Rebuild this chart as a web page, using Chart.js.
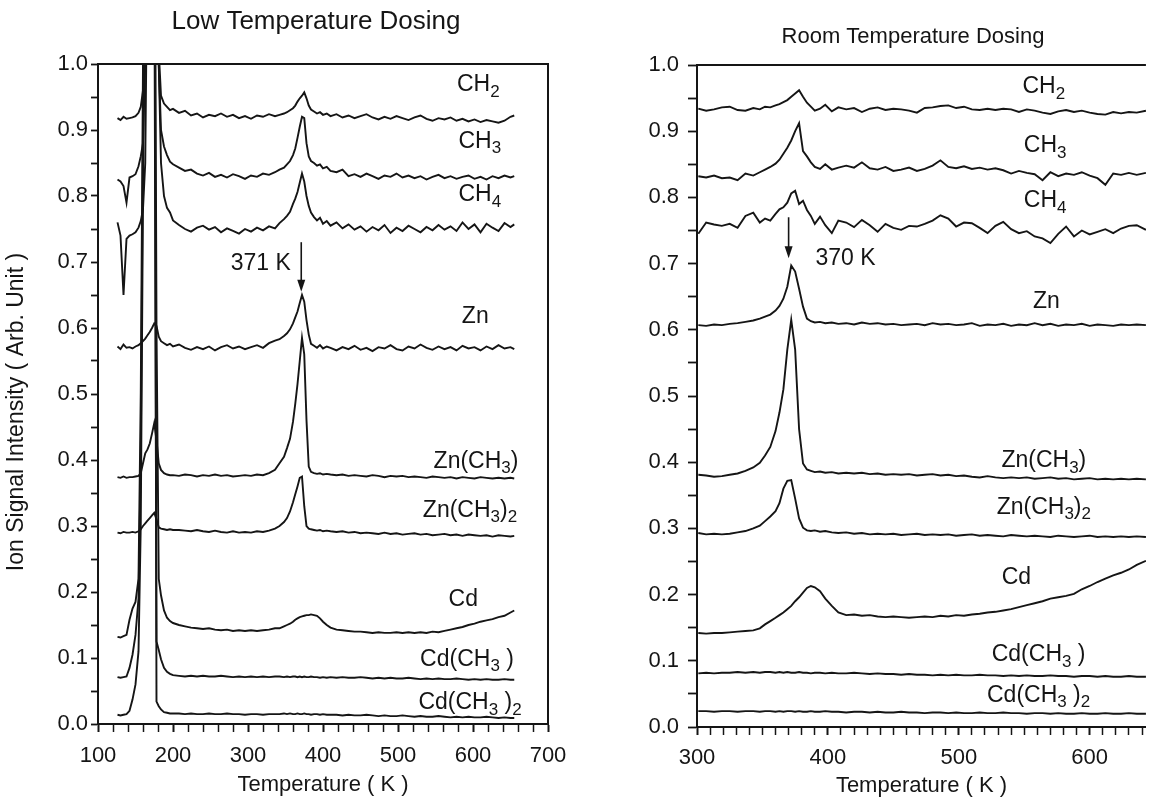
<!DOCTYPE html>
<html>
<head>
<meta charset="utf-8">
<title>Thermal desorption of Zn(CH3)2 / Cd(CH3)2</title>
<script src="https://cdn.jsdelivr.net/npm/chart.js@4.4.1/dist/chart.umd.min.js"></script>
<style>
  html, body { margin: 0; padding: 0; background: #fff; overflow: hidden; }
  #wrap { position: relative; width: 1152px; height: 799px; background: #fff; }
  canvas { position: absolute; top: 0; }
</style>
</head>
<body>
<div id="wrap">
  <canvas id="low" width="600" height="799" style="left:0;width:600px;height:799px"></canvas>
  <canvas id="room" width="542" height="799" style="left:610px;width:542px;height:799px"></canvas>
</div>
<script>
// ---- species (order is top to bottom in both panels) ----
const SPECIES = ['CH₂', 'CH₃', 'CH₄', 'Zn', 'Zn(CH₃)', 'Zn(CH₃)₂', 'Cd', 'Cd(CH₃ )', 'Cd(CH₃ )₂'];

// ---- low temperature dosing: temperature grid (K) ----
const lowTemps = [126,130,134,138,142,146,150,154,157,160,
  163,166,169,172,175,178,181,184,188,192,
  196,200,208,216,224,232,240,248,256,264,
  272,280,288,296,304,312,320,328,336,342,
  348,352,356,360,363,366,369,372,375,378,
  381,384,388,392,396,400,405,410,418,426,
  434,442,450,458,466,474,482,490,498,506,
  514,522,530,538,546,554,562,570,578,586,
  594,602,610,618,626,634,642,650,655];

const lowCH2 = [0.918,0.915,0.920,0.917,0.918,0.919,0.921,0.926,0.935,0.960,
  1.1,1.4,1.6,1.6,1.5,1.3,1.02,0.952,0.940,0.935,
  0.930,0.932,0.926,0.929,0.922,0.925,0.919,0.923,0.921,0.925,
  0.920,0.923,0.918,0.921,0.917,0.922,0.920,0.924,0.921,0.923,
  0.925,0.927,0.930,0.933,0.937,0.943,0.948,0.952,0.957,0.948,
  0.937,0.931,0.928,0.925,0.927,0.923,0.925,0.921,0.924,0.919,
  0.922,0.918,0.921,0.924,0.919,0.916,0.920,0.917,0.921,0.918,
  0.915,0.919,0.922,0.917,0.914,0.918,0.916,0.919,0.914,0.917,
  0.913,0.916,0.912,0.915,0.913,0.911,0.914,0.920,0.922];

const lowCH3 = [0.825,0.822,0.815,0.790,0.828,0.830,0.833,0.845,0.860,0.880,
  1.0,1.3,1.6,1.6,1.5,1.3,1.0,0.900,0.875,0.862,
  0.852,0.848,0.843,0.838,0.840,0.834,0.831,0.835,0.829,0.832,
  0.828,0.833,0.830,0.826,0.831,0.829,0.834,0.832,0.836,0.840,
  0.843,0.848,0.853,0.862,0.872,0.888,0.905,0.920,0.918,0.880,
  0.860,0.853,0.850,0.846,0.848,0.842,0.844,0.838,0.836,0.840,
  0.830,0.833,0.829,0.834,0.830,0.826,0.831,0.829,0.834,0.828,
  0.831,0.827,0.830,0.825,0.829,0.832,0.827,0.830,0.826,0.829,
  0.831,0.826,0.829,0.825,0.830,0.827,0.831,0.828,0.830];

const lowCH4 = [0.760,0.740,0.650,0.735,0.740,0.742,0.745,0.752,0.762,0.780,
  0.850,1.2,1.6,1.6,1.5,1.3,1.0,0.850,0.800,0.782,
  0.775,0.763,0.756,0.750,0.746,0.752,0.755,0.749,0.753,0.745,
  0.751,0.747,0.743,0.750,0.746,0.752,0.748,0.754,0.751,0.759,
  0.765,0.770,0.776,0.788,0.796,0.806,0.820,0.834,0.822,0.800,
  0.785,0.775,0.768,0.763,0.767,0.758,0.762,0.755,0.760,0.751,
  0.757,0.749,0.754,0.746,0.753,0.748,0.756,0.744,0.752,0.747,
  0.755,0.750,0.745,0.753,0.748,0.756,0.749,0.754,0.747,0.760,
  0.750,0.757,0.745,0.758,0.752,0.747,0.759,0.753,0.757];

const lowZn = [0.572,0.568,0.575,0.570,0.571,0.569,0.572,0.574,0.577,0.580,
  0.584,0.589,0.594,0.600,0.607,0.603,0.587,0.580,0.577,0.574,
  0.576,0.572,0.575,0.570,0.567,0.571,0.568,0.572,0.566,0.571,
  0.574,0.569,0.572,0.568,0.571,0.574,0.570,0.577,0.581,0.583,
  0.588,0.592,0.598,0.607,0.616,0.625,0.638,0.650,0.640,0.612,
  0.590,0.576,0.573,0.570,0.574,0.569,0.572,0.570,0.566,0.571,
  0.568,0.573,0.567,0.570,0.565,0.571,0.569,0.574,0.568,0.566,
  0.572,0.569,0.575,0.570,0.567,0.572,0.568,0.571,0.566,0.573,
  0.569,0.571,0.566,0.572,0.568,0.574,0.569,0.571,0.568];

const lowZnMe = [0.374,0.373,0.375,0.373,0.374,0.374,0.375,0.376,0.380,0.395,
  0.410,0.416,0.425,0.440,0.456,0.430,0.395,0.385,0.380,0.378,
  0.377,0.377,0.376,0.378,0.377,0.375,0.377,0.376,0.378,0.376,
  0.377,0.375,0.376,0.377,0.376,0.378,0.377,0.380,0.385,0.395,
  0.405,0.418,0.432,0.458,0.485,0.515,0.550,0.585,0.560,0.460,
  0.390,0.382,0.380,0.379,0.380,0.378,0.379,0.378,0.377,0.378,
  0.376,0.377,0.376,0.375,0.377,0.376,0.374,0.376,0.375,0.376,
  0.374,0.375,0.374,0.373,0.375,0.374,0.373,0.374,0.372,0.374,
  0.373,0.372,0.374,0.373,0.372,0.373,0.372,0.373,0.372];

const lowZnMe2 = [0.290,0.289,0.291,0.290,0.290,0.291,0.290,0.292,0.295,0.300,
  0.304,0.308,0.312,0.316,0.320,0.310,0.298,0.296,0.295,0.294,
  0.295,0.294,0.294,0.293,0.292,0.294,0.292,0.291,0.293,0.291,
  0.290,0.292,0.290,0.291,0.290,0.292,0.291,0.293,0.296,0.300,
  0.306,0.312,0.322,0.336,0.348,0.360,0.373,0.375,0.330,0.300,
  0.296,0.295,0.294,0.293,0.294,0.292,0.293,0.292,0.291,0.292,
  0.290,0.291,0.289,0.290,0.289,0.288,0.290,0.288,0.289,0.287,
  0.288,0.289,0.287,0.288,0.286,0.287,0.288,0.286,0.287,0.285,
  0.287,0.286,0.285,0.286,0.284,0.286,0.285,0.284,0.285];

const lowCd = [0.132,0.131,0.133,0.135,0.158,0.175,0.185,0.220,0.500,1.0,
  1.4,1.6,1.6,1.6,1.5,0.600,0.220,0.195,0.172,0.161,
  0.156,0.153,0.150,0.148,0.146,0.145,0.144,0.145,0.143,0.142,
  0.143,0.141,0.142,0.141,0.142,0.141,0.142,0.143,0.145,0.145,
  0.148,0.150,0.152,0.155,0.158,0.160,0.162,0.163,0.164,0.165,
  0.165,0.166,0.165,0.164,0.160,0.155,0.150,0.146,0.143,0.142,
  0.141,0.140,0.140,0.139,0.138,0.139,0.138,0.138,0.139,0.138,
  0.139,0.138,0.139,0.138,0.140,0.139,0.141,0.143,0.145,0.147,
  0.150,0.152,0.155,0.157,0.159,0.162,0.164,0.169,0.172];

const lowCdMe = [0.071,0.070,0.071,0.072,0.085,0.105,0.135,0.190,0.400,0.900,
  1.4,1.6,1.6,1.5,1.2,0.125,0.112,0.098,0.085,0.079,
  0.076,0.074,0.073,0.072,0.073,0.072,0.073,0.072,0.072,0.073,
  0.072,0.071,0.072,0.071,0.072,0.071,0.072,0.071,0.072,0.072,
  0.071,0.072,0.071,0.072,0.072,0.071,0.072,0.071,0.072,0.071,
  0.071,0.072,0.071,0.071,0.070,0.071,0.070,0.071,0.070,0.071,
  0.070,0.070,0.071,0.070,0.069,0.070,0.069,0.070,0.069,0.069,
  0.070,0.069,0.068,0.069,0.068,0.069,0.068,0.068,0.069,0.068,
  0.067,0.068,0.067,0.068,0.067,0.067,0.068,0.067,0.067];

const lowCdMe2 = [0.014,0.013,0.014,0.015,0.020,0.037,0.060,0.110,0.300,0.800,
  1.3,1.6,1.6,1.6,1.5,0.034,0.027,0.022,0.018,0.017,
  0.016,0.016,0.016,0.015,0.016,0.015,0.015,0.016,0.015,0.015,
  0.016,0.015,0.015,0.014,0.015,0.015,0.014,0.015,0.015,0.015,
  0.016,0.015,0.016,0.015,0.015,0.016,0.015,0.015,0.016,0.015,
  0.015,0.014,0.015,0.015,0.014,0.015,0.014,0.014,0.014,0.013,
  0.014,0.013,0.013,0.014,0.013,0.012,0.013,0.012,0.012,0.013,
  0.012,0.011,0.012,0.011,0.011,0.012,0.011,0.010,0.011,0.010,
  0.011,0.010,0.010,0.011,0.010,0.009,0.010,0.009,0.009];

// ---- room temperature dosing: temperature grid (K) ----
const roomTemps = [301,307,313,319,325,331,337,343,348,352,
  356,360,363,366,369,372,375,378,381,384,
  387,390,394,398,403,408,414,420,426,432,
  438,444,450,456,462,468,474,480,486,492,
  498,504,510,516,522,528,534,540,546,552,
  558,564,570,576,582,588,594,600,606,612,
  618,624,630,636,643];

const roomCH2 = [0.934,0.931,0.933,0.936,0.937,0.932,0.931,0.935,0.933,0.937,
  0.936,0.939,0.941,0.944,0.947,0.952,0.957,0.962,0.952,0.943,
  0.937,0.931,0.934,0.940,0.930,0.936,0.933,0.935,0.929,0.934,
  0.936,0.932,0.934,0.933,0.931,0.928,0.935,0.936,0.938,0.939,
  0.935,0.937,0.933,0.932,0.934,0.932,0.934,0.933,0.929,0.933,
  0.931,0.928,0.926,0.930,0.932,0.929,0.931,0.928,0.926,0.925,
  0.929,0.927,0.929,0.928,0.931];

const roomCH3 = [0.832,0.830,0.833,0.829,0.830,0.826,0.836,0.833,0.838,0.842,
  0.846,0.851,0.857,0.866,0.875,0.886,0.900,0.912,0.870,0.862,
  0.853,0.846,0.843,0.850,0.842,0.845,0.848,0.845,0.853,0.844,
  0.842,0.846,0.840,0.842,0.845,0.840,0.843,0.848,0.856,0.846,
  0.844,0.847,0.843,0.845,0.842,0.844,0.841,0.836,0.840,0.837,
  0.835,0.826,0.838,0.832,0.836,0.834,0.838,0.833,0.829,0.819,
  0.836,0.834,0.837,0.834,0.837];

const roomCH4 = [0.745,0.762,0.759,0.757,0.760,0.754,0.772,0.777,0.762,0.768,
  0.765,0.775,0.782,0.785,0.792,0.806,0.810,0.790,0.795,0.781,
  0.772,0.760,0.771,0.758,0.746,0.765,0.762,0.755,0.766,0.758,
  0.748,0.760,0.754,0.751,0.757,0.756,0.760,0.765,0.773,0.768,
  0.756,0.762,0.761,0.754,0.746,0.757,0.763,0.752,0.746,0.749,
  0.741,0.738,0.731,0.745,0.756,0.741,0.750,0.744,0.748,0.752,
  0.746,0.753,0.757,0.758,0.751];

const roomZn = [0.607,0.606,0.608,0.607,0.609,0.610,0.612,0.614,0.617,0.620,
  0.623,0.629,0.636,0.647,0.665,0.697,0.688,0.662,0.635,0.617,
  0.613,0.611,0.612,0.610,0.611,0.609,0.610,0.608,0.611,0.609,
  0.610,0.608,0.609,0.607,0.608,0.609,0.607,0.610,0.608,0.609,
  0.607,0.608,0.610,0.606,0.608,0.607,0.609,0.606,0.608,0.607,
  0.610,0.607,0.609,0.606,0.608,0.607,0.609,0.606,0.608,0.607,
  0.606,0.608,0.607,0.608,0.607];

const roomZnMe = [0.381,0.380,0.378,0.379,0.381,0.383,0.387,0.392,0.399,0.410,
  0.423,0.447,0.475,0.510,0.570,0.615,0.570,0.450,0.398,0.389,
  0.387,0.385,0.386,0.384,0.385,0.383,0.384,0.383,0.384,0.382,
  0.383,0.381,0.382,0.381,0.382,0.380,0.381,0.382,0.380,0.381,
  0.379,0.380,0.378,0.377,0.379,0.377,0.376,0.377,0.376,0.377,
  0.375,0.376,0.377,0.375,0.376,0.374,0.375,0.376,0.374,0.375,
  0.374,0.375,0.374,0.375,0.374];

const roomZnMe2 = [0.293,0.291,0.292,0.291,0.292,0.294,0.296,0.300,0.304,0.311,
  0.318,0.326,0.338,0.360,0.372,0.373,0.345,0.315,0.301,0.297,
  0.296,0.297,0.295,0.296,0.294,0.293,0.294,0.292,0.293,0.291,
  0.292,0.291,0.292,0.290,0.291,0.292,0.290,0.291,0.290,0.291,
  0.289,0.290,0.291,0.289,0.290,0.289,0.288,0.290,0.289,0.288,
  0.289,0.288,0.287,0.289,0.288,0.287,0.288,0.289,0.287,0.288,
  0.287,0.288,0.287,0.288,0.287];

const roomCd = [0.142,0.141,0.142,0.142,0.143,0.144,0.145,0.146,0.149,0.155,
  0.160,0.165,0.169,0.173,0.178,0.183,0.190,0.196,0.203,0.210,
  0.213,0.211,0.205,0.194,0.183,0.173,0.169,0.170,0.168,0.169,
  0.167,0.166,0.167,0.166,0.165,0.166,0.167,0.166,0.168,0.167,
  0.169,0.168,0.170,0.171,0.173,0.174,0.176,0.178,0.181,0.184,
  0.187,0.190,0.194,0.196,0.198,0.201,0.208,0.213,0.219,0.224,
  0.229,0.233,0.238,0.245,0.251];

const roomCdMe = [0.081,0.082,0.081,0.082,0.082,0.083,0.082,0.083,0.082,0.083,
  0.083,0.082,0.083,0.082,0.083,0.082,0.082,0.083,0.082,0.082,
  0.081,0.082,0.082,0.081,0.082,0.081,0.081,0.082,0.081,0.080,
  0.081,0.080,0.080,0.079,0.080,0.079,0.079,0.078,0.079,0.078,
  0.079,0.078,0.078,0.079,0.078,0.078,0.077,0.078,0.077,0.078,
  0.077,0.077,0.078,0.077,0.077,0.076,0.077,0.077,0.076,0.077,
  0.076,0.076,0.077,0.076,0.076];

const roomCdMe2 = [0.024,0.024,0.023,0.024,0.024,0.023,0.024,0.024,0.023,0.024,
  0.024,0.023,0.024,0.023,0.024,0.024,0.023,0.024,0.023,0.023,
  0.024,0.023,0.023,0.024,0.023,0.023,0.022,0.023,0.023,0.022,
  0.023,0.022,0.022,0.023,0.022,0.022,0.021,0.022,0.022,0.021,
  0.022,0.021,0.021,0.022,0.021,0.021,0.022,0.021,0.021,0.020,
  0.021,0.021,0.020,0.021,0.020,0.020,0.021,0.020,0.020,0.021,
  0.020,0.020,0.021,0.020,0.020];

// desorption peak temperatures marked with arrows
const lowPeakK = 371;
const roomPeakK = 370;

// where each species name sits (temperature, signal)
const lowLabelT  = [607, 609, 609, 603, 604, 596, 587, 592, 596];
const lowLabelV  = [0.968, 0.883, 0.802, 0.617, 0.398, 0.324, 0.188, 0.098, 0.032];
const roomLabelT = [565, 566, 566, 567, 565, 565, 544, 561, 561];
const roomLabelV = [0.967, 0.878, 0.795, 0.643, 0.402, 0.332, 0.225, 0.109, 0.048];

const lowSeries  = [lowCH2, lowCH3, lowCH4, lowZn, lowZnMe, lowZnMe2, lowCd, lowCdMe, lowCdMe2];
const roomSeries = [roomCH2, roomCH3, roomCH4, roomZn, roomZnMe, roomZnMe2, roomCd, roomCdMe, roomCdMe2];

// ---- drawing ----
const INK = '#151515';
const FONT = '"Liberation Sans", Arial, Helvetica, sans-serif';
const SUBS = '₀₁₂₃₄₅₆₇₈₉';

function toPoints(temps, values) {
  return temps.map((t, i) => ({ x: t, y: values[i] }));
}

// formula text with real subscripts (smaller, lowered digits)
function drawFormula(ctx, text, cx, cy, size) {
  const runs = [];
  for (const ch of text) {
    const k = SUBS.indexOf(ch);
    const sub = k >= 0;
    const c = sub ? String(k) : ch;
    const last = runs[runs.length - 1];
    if (last && last.sub === sub) last.t += c; else runs.push({ t: c, sub });
  }
  const subSize = Math.round(size * 0.72);
  let total = 0;
  runs.forEach(r => {
    ctx.font = `${r.sub ? subSize : size}px ${FONT}`;
    r.w = ctx.measureText(r.t).width;
    total += r.w;
  });
  let x = cx - total / 2;
  ctx.textAlign = 'left';
  ctx.textBaseline = 'middle';
  runs.forEach(r => {
    ctx.font = `${r.sub ? subSize : size}px ${FONT}`;
    ctx.fillText(r.t, x, cy + (r.sub ? size * 0.32 : 0));
    x += r.w;
  });
}

const panelNotes = {
  id: 'panelNotes',
  afterDraw(chart, _args, o) {
    const { ctx, chartArea: a } = chart;
    const xs = chart.scales.x, ys = chart.scales.y;
    ctx.save();
    ctx.strokeStyle = INK;
    ctx.fillStyle = INK;
    // frame: top edge (and right edge where the panel closes)
    ctx.lineWidth = 2;
    ctx.beginPath();
    ctx.moveTo(a.left, a.top);
    ctx.lineTo(a.right, a.top);
    if (o.closeRight) ctx.lineTo(a.right, a.bottom);
    ctx.stroke();
    // panel title
    ctx.font = `${o.titleSize}px ${FONT}`;
    ctx.textAlign = 'center';
    ctx.textBaseline = 'middle';
    ctx.fillText(o.title, o.titleX, o.titleY);
    // vertical axis caption
    if (o.yCaption) {
      ctx.save();
      ctx.translate(o.yCaptionX, (a.top + a.bottom) / 2 + o.yCaptionShift);
      ctx.rotate(-Math.PI / 2);
      ctx.font = `${o.yCaptionSize}px ${FONT}`;
      ctx.fillText(o.yCaption, 0, 0);
      ctx.restore();
    }
    // species names
    o.names.forEach((s, i) => {
      drawFormula(ctx, s, xs.getPixelForValue(o.labelT[i]), ys.getPixelForValue(o.labelV[i]), 23);
    });
    // peak arrow and its temperature
    const px = xs.getPixelForValue(o.peakK);
    const yTop = ys.getPixelForValue(o.arrowFrom);
    const yTip = ys.getPixelForValue(o.arrowTo);
    ctx.lineWidth = 1.6;
    ctx.beginPath();
    ctx.moveTo(px, yTop);
    ctx.lineTo(px, yTip - 8);
    ctx.stroke();
    ctx.beginPath();
    ctx.moveTo(px - 4, yTip - 12);
    ctx.lineTo(px + 4, yTip - 12);
    ctx.lineTo(px, yTip);
    ctx.closePath();
    ctx.fill();
    ctx.font = `23px ${FONT}`;
    ctx.textAlign = 'center';
    ctx.textBaseline = 'middle';
    ctx.fillText(`${o.peakK} K`, xs.getPixelForValue(o.textT), ys.getPixelForValue(o.textV));
    ctx.restore();
  }
};

function buildChart(canvasId, p) {
  const datasets = p.series.map((vals, i) => ({
    label: SPECIES[i],
    data: toPoints(p.temps, vals),
    borderColor: INK,
    borderWidth: 1.9,
    pointRadius: 0,
    tension: 0,
    fill: false
  }));
  const tickFont = { family: FONT, size: 22 };
  return new Chart(document.getElementById(canvasId), {
    type: 'line',
    data: { datasets },
    plugins: [panelNotes],
    options: {
      responsive: false,
      animation: false,
      devicePixelRatio: 1,
      events: [],
      layout: { padding: { left: 6, top: p.top, right: p.padRight, bottom: 0 } },
      plugins: {
        legend: { display: false },
        tooltip: { enabled: false },
        panelNotes: p.notes
      },
      scales: {
        x: {
          type: 'linear',
          min: p.xMin,
          max: p.xMax,
          afterFit: s => { s.height = p.xAxisHeight; },
          border: { display: true, color: INK, width: 2 },
          grid: {
            drawOnChartArea: false,
            drawTicks: true,
            tickLength: 8,
            tickColor: INK,
            tickWidth: c => (Math.round(c.tick.value) % 100 === 0 ? 2 : 1.5)
          },
          ticks: {
            stepSize: p.xStep,
            autoSkip: false,
            includeBounds: false,
            maxRotation: 0,
            padding: p.xTickPad,
            color: INK,
            font: tickFont,
            callback: v => (Math.round(v) % 100 === 0 ? String(Math.round(v)) : '')
          },
          title: {
            display: true,
            text: 'Temperature ( K )',
            color: INK,
            font: { family: FONT, size: 22 },
            padding: { top: 0, bottom: p.xTitlePad }
          }
        },
        y: {
          type: 'linear',
          min: 0,
          max: 1,
          afterFit: s => { s.width = p.yAxisWidth; },
          border: { display: true, color: INK, width: 2 },
          grid: {
            drawOnChartArea: false,
            drawTicks: true,
            tickLength: p.yTickLen,
            tickColor: INK,
            tickWidth: 1.8
          },
          ticks: {
            stepSize: 0.05,
            autoSkip: false,
            padding: p.yTickPad,
            color: INK,
            font: tickFont,
            callback: v => {
              const r = Math.round(v * 100);
              return r % 10 === 0 ? (r / 100).toFixed(1) : '';
            }
          }
        }
      }
    }
  });
}

buildChart('low', {
  temps: lowTemps, series: lowSeries,
  xMin: 100, xMax: 700, xStep: 20,
  top: 64, padRight: 52, xAxisHeight: 75, yAxisWidth: 92,
  xTickPad: 11, xTitlePad: 1, yTickLen: 7, yTickPad: 3,
  notes: {
    title: 'Low Temperature Dosing', titleSize: 26, titleX: 316, titleY: 22, closeRight: true,
    yCaption: 'Ion Signal Intensity ( Arb. Unit )', yCaptionSize: 23, yCaptionX: 17, yCaptionShift: 18,
    names: SPECIES, labelT: lowLabelT, labelV: lowLabelV,
    peakK: lowPeakK, arrowFrom: 0.73, arrowTo: 0.655, textT: 317, textV: 0.698
  }
});

buildChart('room', {
  temps: roomTemps, series: roomSeries,
  xMin: 300, xMax: 643, xStep: 10,
  top: 65, padRight: 0, xAxisHeight: 72, yAxisWidth: 81,
  xTickPad: 10, xTitlePad: 0, yTickLen: 9, yTickPad: 9,
  notes: {
    title: 'Room Temperature Dosing', titleSize: 22, titleX: 303, titleY: 37, closeRight: false,
    yCaption: '',
    names: SPECIES, labelT: roomLabelT, labelV: roomLabelV,
    peakK: roomPeakK, arrowFrom: 0.77, arrowTo: 0.708, textT: 413.5, textV: 0.708
  }
});
</script>
</body>
</html>
